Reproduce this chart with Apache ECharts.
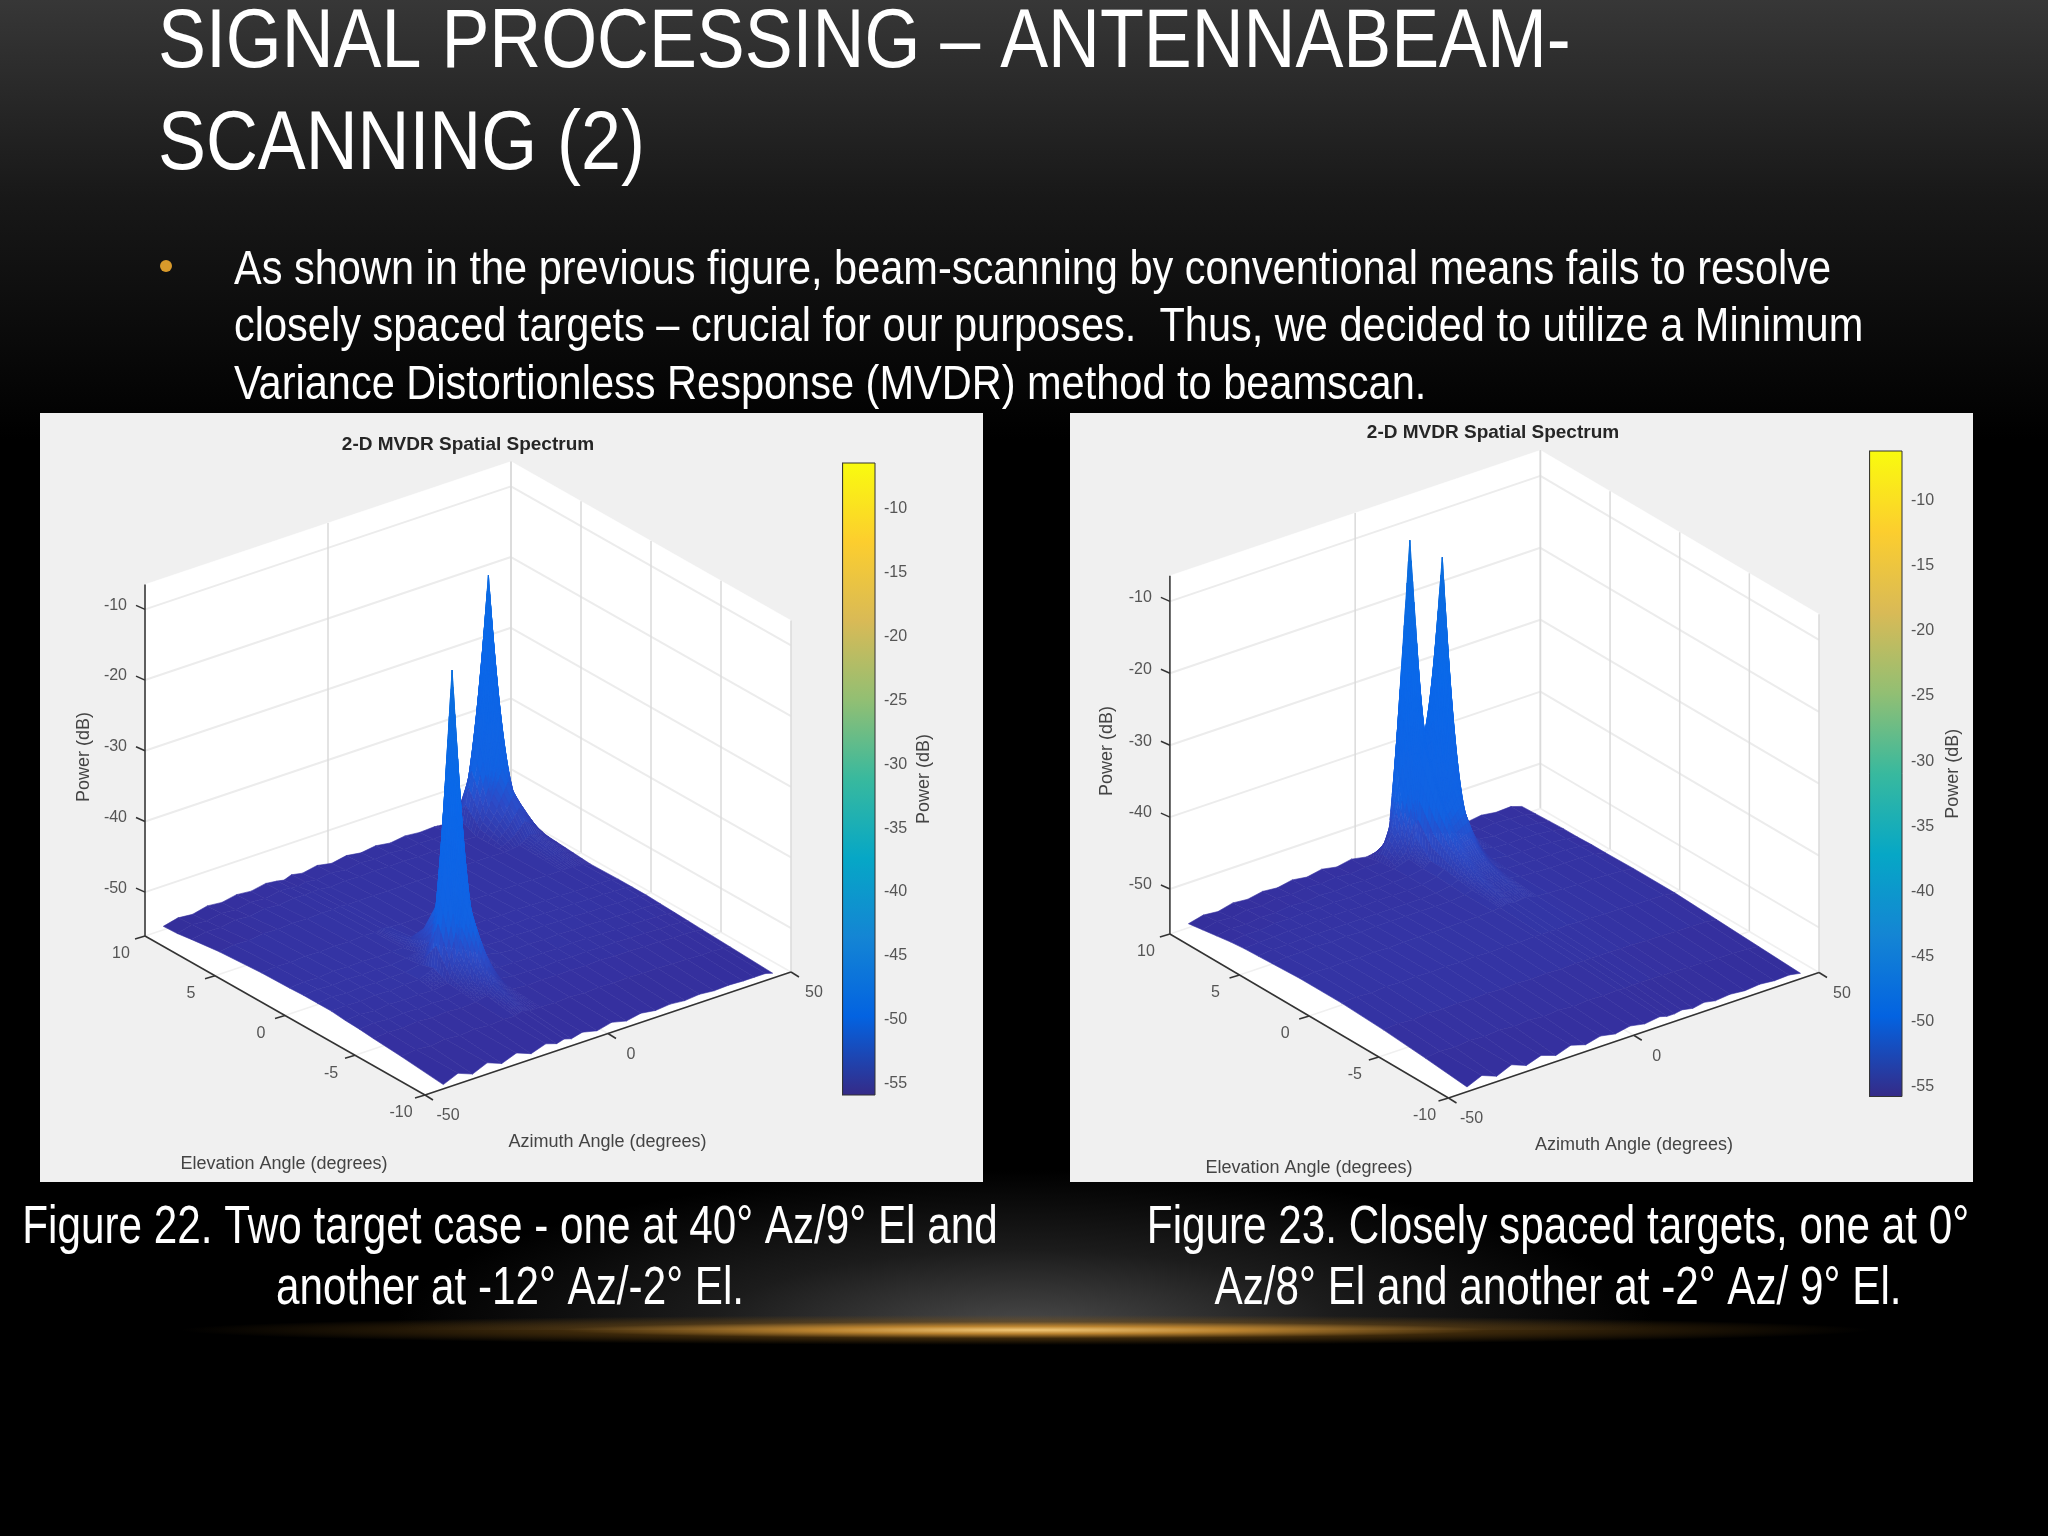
<!DOCTYPE html>
<html>
<head>
<meta charset="utf-8">
<style>
html, body { margin: 0; width: 2048px; height: 1536px; overflow: hidden; background: #000; }
#bg { position: absolute; left: 0; top: 0; width: 2048px; height: 440px; background: linear-gradient(#373737, #181818 45%, #000); }
#glow { position: absolute; left: 150px; top: 1170px; width: 1750px; height: 160px; background: radial-gradient(ellipse 36% 100% at 50% 100%, #4c4c4c, rgba(55,55,55,.5) 50%, transparent); }
#gold { position: absolute; left: 180px; top: 1315px; width: 1690px; height: 30px; background: radial-gradient(ellipse 50% 50% at 50% 50%, #f2c878, #b9822f 25%, rgba(120,80,20,.5) 55%, transparent); }
#chart { position: absolute; left: 0; top: 0; width: 2048px; height: 1536px; filter: blur(0.5px); }
</style>
</head>
<body>
<div id="bg"></div>
<div id="glow"></div>
<div id="gold"></div>
<div id="chart"></div>
<script src="https://cdn.jsdelivr.net/npm/echarts@6/dist/echarts.min.js"></script>
<script>
const titleLines = ['SIGNAL PROCESSING – ANTENNABEAM-', 'SCANNING (2)'];
const bodyLines = [
    'As shown in the previous figure, beam-scanning by conventional means fails to resolve',
    'closely spaced targets – crucial for our purposes.  Thus, we decided to utilize a Minimum',
    'Variance Distortionless Response (MVDR) method to beamscan.'
];
const caption22 = ['Figure 22. Two target case - one at 40° Az/9° El and', 'another at -12° Az/-2° El.'];
const caption23 = ['Figure 23. Closely spaced targets, one at 0°', 'Az/8° El and another at -2° Az/ 9° El.'];

const azTicks = [-50, 0, 50];
const elTicks = [-10, -5, 0, 5, 10];
const powerTicks = [-50, -40, -30, -20, -10];
const colorbarTicks = [-55, -50, -45, -40, -35, -30, -25, -20, -15, -10];

// figure 22 surface, one row per elevation, one column per azimuth
const az22 = [-45, -41, -37, -33, -29, -25, -21, -17, -14, -12, -10, -7, -3, 1, 5, 9, 13, 17, 21, 25, 29, 33, 37, 40, 43, 45];
const el22 = [-10, -7, -5, -4, -3, -2, -1, 0, 1, 3, 6, 8, 9, 10];
const power22 = [
    [-55.6,-54.7,-55.5,-54.6,-55.4,-54.6,-55.4,-54.7,-55.2,-54.9,-55.2,-54.8,-55.3,-54.8,-55.3,-54.9,-55.2,-55.0,-55.2,-55.0,-55.2,-55.1,-55.2,-55.2,-55.2,-55.5],
    [-55.0,-54.7,-54.9,-54.6,-54.8,-54.6,-54.8,-54.6,-54.7,-54.3,-54.6,-54.6,-54.7,-54.6,-54.7,-54.6,-54.7,-54.6,-54.7,-54.7,-54.8,-54.8,-54.9,-54.9,-55.0,-55.2],
    [-54.7,-54.5,-54.6,-54.4,-54.6,-54.4,-54.6,-54.4,-54.0,-52.5,-53.5,-54.3,-54.5,-54.4,-54.5,-54.4,-54.5,-54.4,-54.5,-54.5,-54.6,-54.6,-54.7,-54.7,-54.8,-55.0],
    [-54.5,-54.3,-54.5,-54.3,-54.4,-54.3,-54.4,-54.2,-53.0,-48.0,-50.5,-54.0,-54.3,-54.3,-54.4,-54.3,-54.4,-54.3,-54.4,-54.4,-54.5,-54.5,-54.6,-54.6,-54.7,-54.9],
    [-54.4,-54.2,-54.4,-54.2,-54.3,-54.2,-54.3,-54.0,-50.0,-42.0,-47.0,-53.5,-54.2,-54.2,-54.3,-54.2,-54.3,-54.2,-54.3,-54.3,-54.4,-54.4,-54.5,-54.5,-54.6,-54.8],
    [-54.2,-54.1,-54.2,-54.0,-54.1,-53.9,-53.9,-53.0,-38.0,-11.7,-36.0,-50.0,-53.5,-54.0,-54.2,-54.1,-54.2,-54.1,-54.2,-54.2,-54.3,-54.3,-54.4,-54.4,-54.5,-54.7],
    [-54.2,-54.0,-54.2,-54.0,-54.1,-54.0,-54.0,-53.6,-52.0,-45.7,-48.0,-53.0,-54.0,-54.0,-54.1,-54.0,-54.1,-54.0,-54.1,-54.1,-54.2,-54.2,-54.3,-54.3,-54.4,-54.6],
    [-54.2,-54.0,-54.2,-54.0,-54.1,-54.0,-54.1,-53.8,-53.5,-50.5,-52.0,-53.8,-54.0,-54.0,-54.1,-54.0,-54.1,-54.0,-54.1,-54.1,-54.1,-54.2,-54.2,-54.3,-54.3,-54.6],
    [-54.3,-54.1,-54.2,-54.0,-54.1,-54.0,-54.1,-54.0,-54.0,-53.0,-53.5,-54.0,-54.1,-54.0,-54.1,-54.0,-54.1,-54.0,-54.1,-54.1,-54.1,-54.2,-54.2,-54.2,-54.3,-54.6],
    [-54.4,-54.2,-54.3,-54.1,-54.2,-54.1,-54.2,-54.0,-54.1,-53.9,-54.0,-54.1,-54.1,-54.1,-54.1,-54.1,-54.1,-54.1,-54.1,-54.1,-54.1,-54.2,-54.2,-54.2,-54.4,-54.7],
    [-54.8,-54.5,-54.6,-54.3,-54.4,-54.2,-54.3,-54.2,-54.2,-54.1,-54.2,-54.2,-54.2,-54.2,-54.2,-54.2,-54.2,-54.2,-54.2,-54.2,-54.2,-54.3,-54.0,-53.0,-53.5,-54.2],
    [-55.3,-54.9,-55.0,-54.6,-54.8,-54.4,-54.6,-54.3,-54.4,-54.3,-54.3,-54.5,-54.3,-54.4,-54.3,-54.4,-54.3,-54.4,-54.3,-54.3,-54.2,-54.3,-50.0,-46.0,-50.0,-53.5],
    [-55.6,-55.0,-55.2,-54.8,-55.0,-54.6,-54.8,-54.4,-54.5,-54.7,-54.4,-54.6,-54.3,-54.6,-54.3,-54.5,-54.3,-54.5,-54.3,-54.4,-54.3,-53.5,-42.0,-19.7,-42.0,-53.0],
    [-55.7,-55.2,-55.4,-54.9,-55.1,-54.7,-54.9,-54.5,-54.7,-54.9,-54.5,-54.8,-54.4,-54.8,-54.4,-54.7,-54.4,-54.7,-54.4,-54.6,-54.5,-54.7,-53.0,-47.0,-52.0,-55.0]
];

// figure 23 surface
const az23 = [-45, -41, -37, -33, -29, -25, -21, -17, -13, -9, -5, -1, 3, 7, 9, 11, 13, 16, 19, 22, 26, 30, 34, 38, 42, 45];
const el23 = [-10, -7, -4, -1, 2, 4, 5, 6, 7, 8, 9, 10];
const power23 = [
    [-55.6,-54.7,-55.5,-54.6,-55.4,-54.7,-55.4,-54.7,-55.3,-54.8,-55.2,-54.8,-55.2,-54.9,-55.2,-55.2,-55.0,-55.3,-55.0,-55.3,-55.1,-55.3,-55.1,-55.3,-55.2,-55.5],
    [-55.0,-54.7,-54.9,-54.6,-54.8,-54.6,-54.8,-54.6,-54.8,-54.6,-54.8,-54.6,-54.7,-54.6,-54.7,-54.6,-54.6,-54.6,-54.7,-54.7,-54.8,-54.8,-54.9,-54.9,-55.0,-55.2],
    [-54.5,-54.3,-54.5,-54.3,-54.4,-54.3,-54.4,-54.3,-54.4,-54.3,-54.4,-54.3,-54.4,-54.3,-54.3,-54.3,-54.3,-54.3,-54.4,-54.4,-54.5,-54.5,-54.6,-54.6,-54.7,-54.9],
    [-54.2,-54.0,-54.2,-54.0,-54.1,-54.0,-54.1,-54.0,-54.1,-54.0,-54.1,-54.0,-54.1,-54.0,-54.1,-54.0,-54.1,-54.0,-54.1,-54.1,-54.2,-54.2,-54.3,-54.3,-54.4,-54.6],
    [-54.2,-54.0,-54.1,-54.0,-54.1,-54.0,-54.1,-54.0,-54.0,-54.0,-54.0,-54.0,-54.0,-53.9,-53.8,-53.5,-53.7,-53.5,-53.9,-54.0,-54.1,-54.2,-54.2,-54.3,-54.4,-54.6],
    [-54.4,-54.2,-54.2,-54.1,-54.2,-54.1,-54.2,-54.1,-54.1,-54.1,-54.1,-54.1,-54.1,-53.9,-53.6,-52.0,-52.8,-52.5,-53.6,-54.0,-54.1,-54.2,-54.2,-54.2,-54.4,-54.7],
    [-54.5,-54.3,-54.3,-54.2,-54.2,-54.2,-54.2,-54.2,-54.2,-54.2,-54.2,-54.2,-54.1,-53.8,-53.3,-50.5,-51.5,-51.5,-53.2,-54.0,-54.1,-54.2,-54.2,-54.2,-54.4,-54.7],
    [-54.6,-54.4,-54.4,-54.2,-54.3,-54.2,-54.2,-54.2,-54.3,-54.2,-54.2,-54.2,-54.1,-53.7,-53.0,-48.0,-49.5,-49.0,-52.5,-53.8,-54.1,-54.2,-54.2,-54.3,-54.5,-54.8],
    [-54.8,-54.5,-54.6,-54.3,-54.4,-54.2,-54.3,-54.2,-54.3,-54.2,-54.3,-54.2,-54.1,-53.7,-53.0,-44.0,-46.5,-43.9,-49.0,-53.5,-54.1,-54.2,-54.2,-54.3,-54.5,-54.8],
    [-55.1,-54.8,-54.9,-54.6,-54.7,-54.4,-54.6,-54.3,-54.5,-54.3,-54.4,-54.3,-54.2,-53.5,-51.0,-38.6,-41.0,-13.1,-45.0,-52.0,-54.0,-54.3,-54.2,-54.4,-54.6,-54.9],
    [-55.4,-54.9,-55.1,-54.7,-54.9,-54.5,-54.7,-54.4,-54.6,-54.4,-54.6,-54.4,-54.4,-50.0,-42.0,-11.0,-41.0,-39.3,-50.0,-53.5,-54.2,-54.5,-54.3,-54.5,-54.6,-55.0],
    [-55.7,-55.2,-55.4,-54.9,-55.1,-54.7,-54.9,-54.5,-54.8,-54.4,-54.8,-54.4,-54.8,-54.5,-53.0,-41.8,-50.0,-52.0,-54.3,-54.7,-54.4,-54.7,-54.4,-54.7,-54.6,-55.1]
];

const surfaceLevels = [-56, -54.8, -53.6, -50, -46.5, -30, -12];
const surfaceColors = ['#322d97', '#35309f', '#3337a8', '#2c4cc8', '#1262e2', '#0a68ea', '#0c6fdc'];
const parulaColors = ['#352A87', '#0363E1', '#1485D4', '#06A7C6', '#38B99E', '#92BF73', '#D9BA56', '#FCCE2E', '#F9FB0E'];

const labelFont = '"Liberation Sans", Arial, sans-serif';
const slideFont = '"Liberation Sans", Arial, sans-serif';
const tickColor = '#555';

// panel rectangles and how the oblique view of each 3-D box falls on them
const panel22 = {
    rect: [40, 413, 943, 769],
    view: { front: [385, 682], az: [3.66, -1.23], el: [-14, -7.95], k: 7.07, floor: -56.2, top: -6.5 },
    bar: { rect: [842.6, 463, 32.4, 632], min: -55.9, max: -6.4, nameGap: 40 },
    title: [428, 32], azName: [567.5, 729], elName: [244, 751], powerName: [44, 344]
};
const panel23 = {
    rect: [1070, 413, 903, 769],
    view: { front: [378.5, 685], az: [3.705, -1.255], el: [-13.93, -8.2], k: 7.19, floor: -56.26, top: -6.45 },
    bar: { rect: [1869.6, 451, 32.4, 645.5], min: -55.73, max: -6.2, nameGap: 42 },
    title: [423, 20], azName: [564, 732], elName: [239, 755], powerName: [37, 338]
};

function project(view, az, el, z) {
    return [
        view.front[0] + (az + 50) * view.az[0] + (el + 10) * view.el[0],
        view.front[1] + (az + 50) * view.az[1] + (el + 10) * view.el[1] - (z - view.floor) * view.k
    ];
}

function surfaceColor(z) {
    for (let i = 1; i < surfaceLevels.length; i++) {
        if (z <= surfaceLevels[i]) {
            let t = (z - surfaceLevels[i - 1]) / (surfaceLevels[i] - surfaceLevels[i - 1]);
            return echarts.color.lerp(Math.max(t, 0), [surfaceColors[i - 1], surfaceColors[i]]);
        }
    }
    return surfaceColors[surfaceColors.length - 1];
}

function line(api, a, b, color, width) {
    let p = api.coord(a), q = api.coord(b);
    return {
        type: 'line',
        shape: { x1: p[0], y1: p[1], x2: q[0], y2: q[1] },
        style: { stroke: color, lineWidth: width }
    };
}

function text(api, pos, str, opts) {
    let p = api.coord(pos);
    return {
        type: 'text',
        x: p[0],
        y: p[1],
        rotation: opts.rotation || 0,
        style: {
            text: str,
            fill: opts.color || tickColor,
            font: (opts.weight || 'normal') + ' ' + (opts.size || 16) + 'px ' + labelFont,
            align: opts.align || 'center',
            verticalAlign: 'middle'
        }
    };
}

function polygon(api, pts, fill) {
    return {
        type: 'polygon',
        shape: { points: pts.map(p => api.coord(p)) },
        style: { fill: fill, stroke: fill, lineWidth: 0.6 }
    };
}

// walls, floor, grid lines, axes and their labels
function frameRenderer(panel) {
    const v = panel.view;
    return function (params, api) {
        const P = (az, el, z) => project(v, az, el, z);
        let kids = [];
        kids.push(polygon(api, [P(-50, 10, v.floor), P(50, 10, v.floor), P(50, 10, v.top), P(-50, 10, v.top)], '#fff'));
        kids.push(polygon(api, [P(50, 10, v.floor), P(50, -10, v.floor), P(50, -10, v.top), P(50, 10, v.top)], '#fff'));
        kids.push(polygon(api, [P(-50, -10, v.floor), P(50, -10, v.floor), P(50, 10, v.floor), P(-50, 10, v.floor)], '#fff'));

        powerTicks.forEach(z => {
            kids.push(line(api, P(-50, 10, z), P(50, 10, z), '#ececec', 2));
            kids.push(line(api, P(50, 10, z), P(50, -10, z), '#ececec', 2));
        });
        azTicks.forEach(az => {
            kids.push(line(api, P(az, 10, v.floor), P(az, 10, v.top), '#dadada', 1.5));
            kids.push(line(api, P(az, 10, v.floor), P(az, -10, v.floor), '#f0f0f0', 1.5));
        });
        elTicks.forEach(el => {
            kids.push(line(api, P(50, el, v.floor), P(50, el, v.top), '#dadada', 1.5));
            kids.push(line(api, P(-50, el, v.floor), P(50, el, v.floor), '#f0f0f0', 1.5));
        });

        kids.push(line(api, P(-50, 10, v.floor), P(-50, 10, v.top), '#333', 1.5));
        kids.push(line(api, P(-50, 10, v.floor), P(-50, -10, v.floor), '#333', 1.5));
        kids.push(line(api, P(-50, -10, v.floor), P(50, -10, v.floor), '#333', 1.5));

        powerTicks.forEach(z => {
            let p = P(-50, 10, z);
            kids.push(line(api, p, [p[0] - 9, p[1] - 4], '#333', 1.5));
            kids.push(text(api, [p[0] - 18, p[1] - 4], String(z), { align: 'right' }));
        });
        elTicks.forEach(el => {
            let p = P(-50, el, v.floor);
            kids.push(line(api, p, [p[0] - 10, p[1] + 3], '#333', 1.5));
            kids.push(text(api, [p[0] - 24, p[1] + 18], String(el), {}));
        });
        azTicks.forEach(az => {
            let p = P(az, -10, v.floor);
            kids.push(line(api, p, [p[0] + 8, p[1] + 5], '#333', 1.5));
            kids.push(text(api, [p[0] + 23, p[1] + 21], String(az), {}));
        });

        kids.push(text(api, panel.title, '2-D MVDR Spatial Spectrum', { weight: 'bold', size: 19, color: '#262626' }));
        kids.push(text(api, panel.azName, 'Azimuth Angle (degrees)', { size: 18, color: '#444' }));
        kids.push(text(api, panel.elName, 'Elevation Angle (degrees)', { size: 18, color: '#444' }));
        kids.push(text(api, panel.powerName, 'Power (dB)', { size: 18, color: '#444', rotation: Math.PI / 2 }));
        return { type: 'group', children: kids };
    };
}

// far quads first, so the nearer ones paint over them
function surfaceData(az, el) {
    let out = [];
    for (let i = az.length - 2; i >= 0; i--) {
        for (let j = el.length - 2; j >= 0; j--) {
            out.push([i, j]);
        }
    }
    return out;
}

// steep cells are shaded smoothly across the patch, like shading interp
function surfaceRenderer(panel, az, el, power) {
    return function (params, api) {
        let i = api.value(0), j = api.value(1);
        let z00 = power[j][i], z10 = power[j][i + 1], z01 = power[j + 1][i], z11 = power[j + 1][i + 1];
        let spread = Math.max(z00, z10, z01, z11) - Math.min(z00, z10, z01, z11);
        let n = spread > 20 ? 10 : spread > 1 ? 5 : 1;
        const at = (u, w) => project(panel.view, az[i] + (az[i + 1] - az[i]) * u, el[j] + (el[j + 1] - el[j]) * w,
            z00 * (1 - u) * (1 - w) + z10 * u * (1 - w) + z01 * (1 - u) * w + z11 * u * w);
        let kids = [];
        for (let a = n - 1; a >= 0; a--) {
            for (let b = n - 1; b >= 0; b--) {
                let u = a / n, w = b / n, d = 1 / n;
                let mid = z00 * (1 - u - d / 2) * (1 - w - d / 2) + z10 * (u + d / 2) * (1 - w - d / 2)
                    + z01 * (1 - u - d / 2) * (w + d / 2) + z11 * (u + d / 2) * (w + d / 2);
                kids.push(polygon(api, [at(u, w), at(u + d, w), at(u + d, w + d), at(u, w + d)], surfaceColor(mid)));
            }
        }
        return { type: 'group', children: kids };
    };
}

function colorbarRenderer(panel) {
    return function (params, api) {
        let a = api.coord([0, panel.bar.max]), b = api.coord([1, panel.bar.min]);
        return {
            type: 'rect',
            shape: { x: a[0], y: a[1], width: b[0] - a[0], height: b[1] - a[1] },
            style: {
                fill: new echarts.graphic.LinearGradient(0, 1, 0, 0, parulaColors.map((c, i) => ({
                    offset: i / (parulaColors.length - 1),
                    color: c
                }))),
                stroke: '#333',
                lineWidth: 1
            }
        };
    };
}

// no narrow face is installed, so the regular one is squeezed to the same width
function slideText(x, y, str, size, squeeze, align) {
    return {
        type: 'text',
        x: x,
        y: y,
        scaleX: squeeze,
        silent: true,
        style: {
            text: str,
            fill: '#fff',
            font: size + 'px ' + slideFont,
            align: align || 'left',
            verticalAlign: 'middle'
        }
    };
}

let grid = [], xAxis = [], yAxis = [], series = [];

function addPanel(panel, az, el, power) {
    const r = panel.rect, b = panel.bar.rect;
    let plot = grid.length;
    grid.push({ show: true, left: r[0], top: r[1], width: r[2], height: r[3], backgroundColor: '#f0f0f0', borderWidth: 0, z: 0 });
    xAxis.push({ gridIndex: plot, type: 'value', min: 0, max: r[2], show: false });
    yAxis.push({ gridIndex: plot, type: 'value', min: 0, max: r[3], inverse: true, show: false });
    series.push({
        type: 'custom', xAxisIndex: plot, yAxisIndex: plot, silent: true, animation: false, clip: false,
        data: [[0, 0]], renderItem: frameRenderer(panel), z: 2
    });
    series.push({
        type: 'custom', xAxisIndex: plot, yAxisIndex: plot, silent: true, animation: false, clip: false,
        progressive: 0, data: surfaceData(az, el), renderItem: surfaceRenderer(panel, az, el, power), z: 3
    });

    let barIdx = grid.length;
    grid.push({ left: b[0], top: b[1], width: b[2], height: b[3], z: 4 });
    xAxis.push({ gridIndex: barIdx, type: 'value', min: 0, max: 1, show: false });
    yAxis.push({
        gridIndex: barIdx,
        type: 'value',
        position: 'right',
        min: panel.bar.min,
        max: panel.bar.max,
        name: 'Power (dB)',
        nameLocation: 'middle',
        nameRotate: 90,
        nameGap: panel.bar.nameGap,
        nameTextStyle: { color: '#444', fontSize: 18, fontFamily: labelFont },
        splitLine: { show: false },
        axisLine: { show: true, lineStyle: { color: '#333', width: 1 } },
        axisTick: { show: true, length: 5, customValues: colorbarTicks, lineStyle: { color: '#333' } },
        axisLabel: { customValues: colorbarTicks, color: tickColor, fontSize: 16, fontFamily: labelFont, margin: 9 }
    });
    series.push({
        type: 'custom', xAxisIndex: barIdx, yAxisIndex: barIdx, silent: true, animation: false, clip: false,
        data: [[0, panel.bar.min]], renderItem: colorbarRenderer(panel), z: 5
    });
}

addPanel(panel22, az22, el22, power22);
addPanel(panel23, az23, el23, power23);

let slide = [];
titleLines.forEach((s, i) => slide.push(slideText(158, 44 + i * 102, s, 84, 0.855)));
bodyLines.forEach((s, i) => slide.push(slideText(234, 270.5 + i * 57.5, s, 48, 0.865)));
slide.push({
    type: 'circle', silent: true,
    shape: { cx: 166, cy: 266, r: 6 },
    style: { fill: '#d99a2b' }
});
caption22.forEach((s, i) => slide.push(slideText(510, 1228.5 + i * 61, s, 53, 0.797, 'center')));
caption23.forEach((s, i) => slide.push(slideText(1558, 1228.5 + i * 61, s, 53, 0.797, 'center')));

let chart = echarts.init(document.getElementById('chart'), null, { renderer: 'canvas' });
chart.setOption({
    backgroundColor: 'transparent',
    animation: false,
    grid: grid,
    xAxis: xAxis,
    yAxis: yAxis,
    series: series,
    graphic: slide
});
</script>
</body>
</html>
